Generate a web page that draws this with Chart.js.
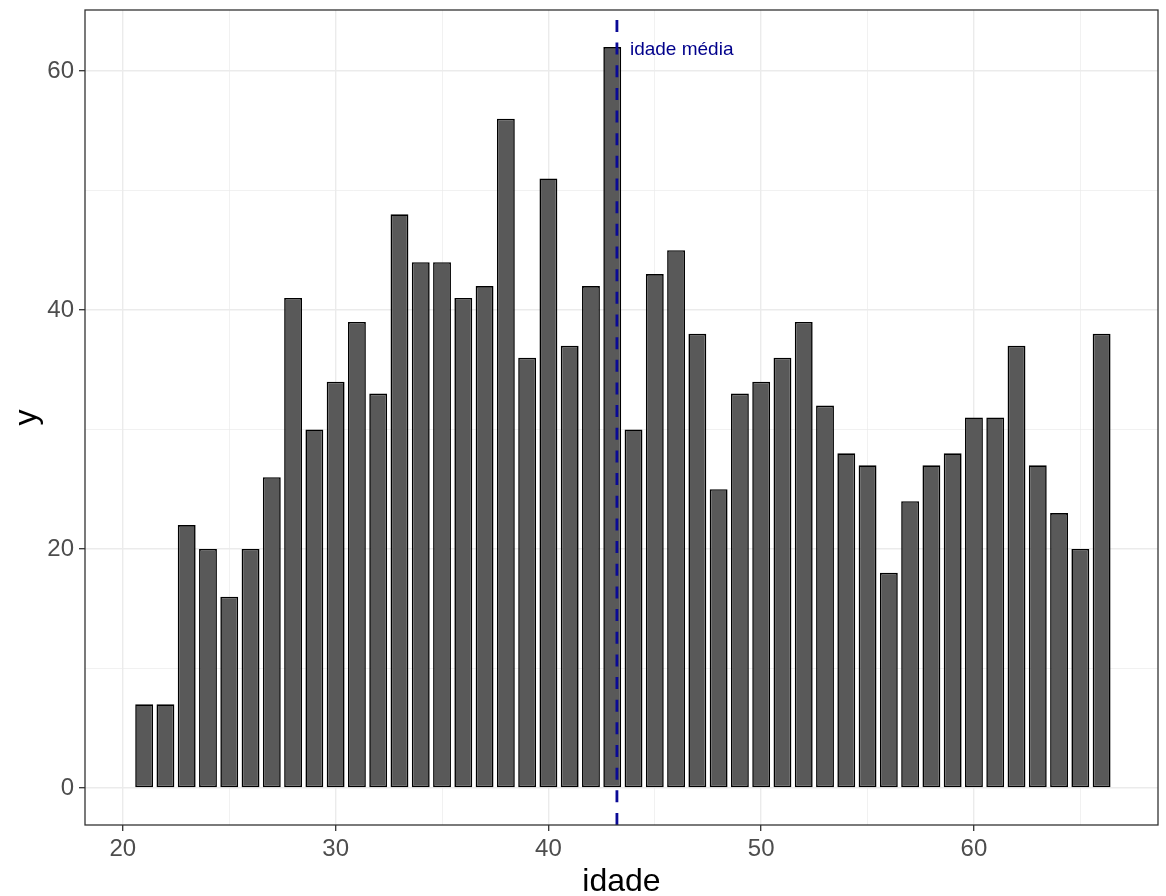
<!DOCTYPE html>
<html lang="pt">
<head>
  <meta charset="UTF-8" />
  <title>idade</title>
  <script src="https://cdn.jsdelivr.net/npm/chart.js"></script>
  <style>
    * { margin: 0; padding: 0; box-sizing: border-box; }
    body { background: #fff; }
    .wrap { width: 1166px; height: 896px; position: relative; }
  </style>
</head>
<body>
  <div class="wrap"><canvas id="chart"></canvas></div>

  <script>
    // dados
    const idades = [21, 22, 23, 24, 25, 26, 27, 28, 29, 30, 31, 32, 33, 34, 35, 36,
      37, 38, 39, 40, 41, 42, 43, 44, 45, 46, 47, 48, 49, 50, 51, 52, 53, 54, 55, 56,
      57, 58, 59, 60, 61, 62, 63, 64, 65, 66];
    const contagens = [7, 7, 22, 20, 16, 20, 26, 41, 30, 34, 39, 33, 48, 44, 44, 41,
      42, 56, 36, 51, 37, 42, 62, 30, 43, 45, 38, 25, 33, 34, 36, 39, 32, 28, 27, 18,
      24, 27, 28, 31, 31, 37, 27, 23, 20, 38];
    const idadeMedia = 43.22;
    const rotuloMedia = 'idade média';
    const rotuloMediaY = 61.8;

    const xTicks = [20, 25, 30, 35, 40, 45, 50, 55, 60, 65];
    const xLabels = [20, 30, 40, 50, 60];
    const yTicks = [0, 10, 20, 30, 40, 50, 60];
    const yLabels = [0, 20, 40, 60];

    const FONT = "'Liberation Sans', Arial, sans-serif";

    const ggExtras = {
      id: 'ggExtras',
      afterDatasetsDraw(chart) {
        const { ctx, chartArea, scales } = chart;
        const px = scales.x.getPixelForValue(idadeMedia);
        ctx.save();
        ctx.beginPath();
        ctx.rect(chartArea.left, chartArea.top, chartArea.width, chartArea.height);
        ctx.clip();
        ctx.strokeStyle = '#0a0a96';
        ctx.lineWidth = 2.8;
        ctx.setLineDash([12, 10.66]);
        ctx.beginPath();
        ctx.moveTo(px, chartArea.bottom);
        ctx.lineTo(px, chartArea.top);
        ctx.stroke();
        ctx.restore();

        ctx.save();
        ctx.fillStyle = '#00008B';
        ctx.font = '19px ' + FONT;
        ctx.textAlign = 'left';
        ctx.textBaseline = 'middle';
        ctx.fillText(rotuloMedia, px + 13, scales.y.getPixelForValue(rotuloMediaY));
        ctx.restore();
      },
      afterDraw(chart) {
        const { ctx, chartArea } = chart;
        ctx.save();
        ctx.strokeStyle = '#333333';
        ctx.lineWidth = 1.3;
        ctx.strokeRect(chartArea.left, chartArea.top, chartArea.width, chartArea.height);

        // títulos dos eixos
        ctx.fillStyle = '#000';
        ctx.font = '32px ' + FONT;
        ctx.textAlign = 'center';
        ctx.textBaseline = 'alphabetic';
        ctx.fillText('idade', (chartArea.left + chartArea.right) / 2, 891);
        ctx.translate(36, (chartArea.top + chartArea.bottom) / 2);
        ctx.rotate(-Math.PI / 2);
        ctx.fillText('y', 0, 0);
        ctx.restore();
      }
    };

    const isMajor = (list, v) => list.includes(v);

    new Chart(document.getElementById('chart'), {
      type: 'bar',
      data: {
        datasets: [{
          data: idades.map((a, i) => ({ x: a, y: contagens[i] })),
          backgroundColor: '#595959',
          borderColor: '#000000',
          borderWidth: 1.6,
          borderSkipped: false,
          categoryPercentage: 1,
          barPercentage: 0.84
        }]
      },
      options: {
        responsive: true,
        maintainAspectRatio: false,
        animation: false,
        layout: { padding: { top: 10, right: 8, left: 0, bottom: 0 } },
        plugins: { legend: { display: false }, tooltip: { enabled: false } },
        scales: {
          x: {
            type: 'linear',
            min: 18.22,
            max: 68.65,
            offset: false,
            afterBuildTicks: s => { s.ticks = xTicks.map(v => ({ value: v })); },
            afterFit: s => { s.height = 71; s.paddingLeft = 0; s.paddingRight = 0; },
            border: { display: false },
            grid: {
              offset: false,
              color: '#ebebeb',
              lineWidth: c => isMajor(xLabels, c.tick.value) ? 1.4 : 0.7,
              tickColor: c => isMajor(xLabels, c.tick.value) ? '#333333' : 'rgba(0,0,0,0)',
              tickLength: 6,
              tickWidth: 1.3
            },
            ticks: {
              autoSkip: false,
              maxRotation: 0,
              padding: 4,
              color: '#4d4d4d',
              font: { family: FONT, size: 24 },
              callback: v => isMajor(xLabels, v) ? v : ''
            }
          },
          y: {
            type: 'linear',
            min: -3.1,
            max: 65.1,
            afterBuildTicks: s => { s.ticks = yTicks.map(v => ({ value: v })); },
            afterFit: s => { s.width = 85; s.paddingTop = 0; s.paddingBottom = 0; },
            border: { display: false },
            grid: {
              color: '#ebebeb',
              lineWidth: c => isMajor(yLabels, c.tick.value) ? 1.4 : 0.7,
              tickColor: c => isMajor(yLabels, c.tick.value) ? '#333333' : 'rgba(0,0,0,0)',
              tickLength: 6,
              tickWidth: 1.3
            },
            ticks: {
              autoSkip: false,
              padding: 5,
              color: '#4d4d4d',
              font: { family: FONT, size: 24 },
              callback: v => isMajor(yLabels, v) ? v : ''
            }
          }
        }
      },
      plugins: [ggExtras]
    });
  </script>
</body>
</html>
